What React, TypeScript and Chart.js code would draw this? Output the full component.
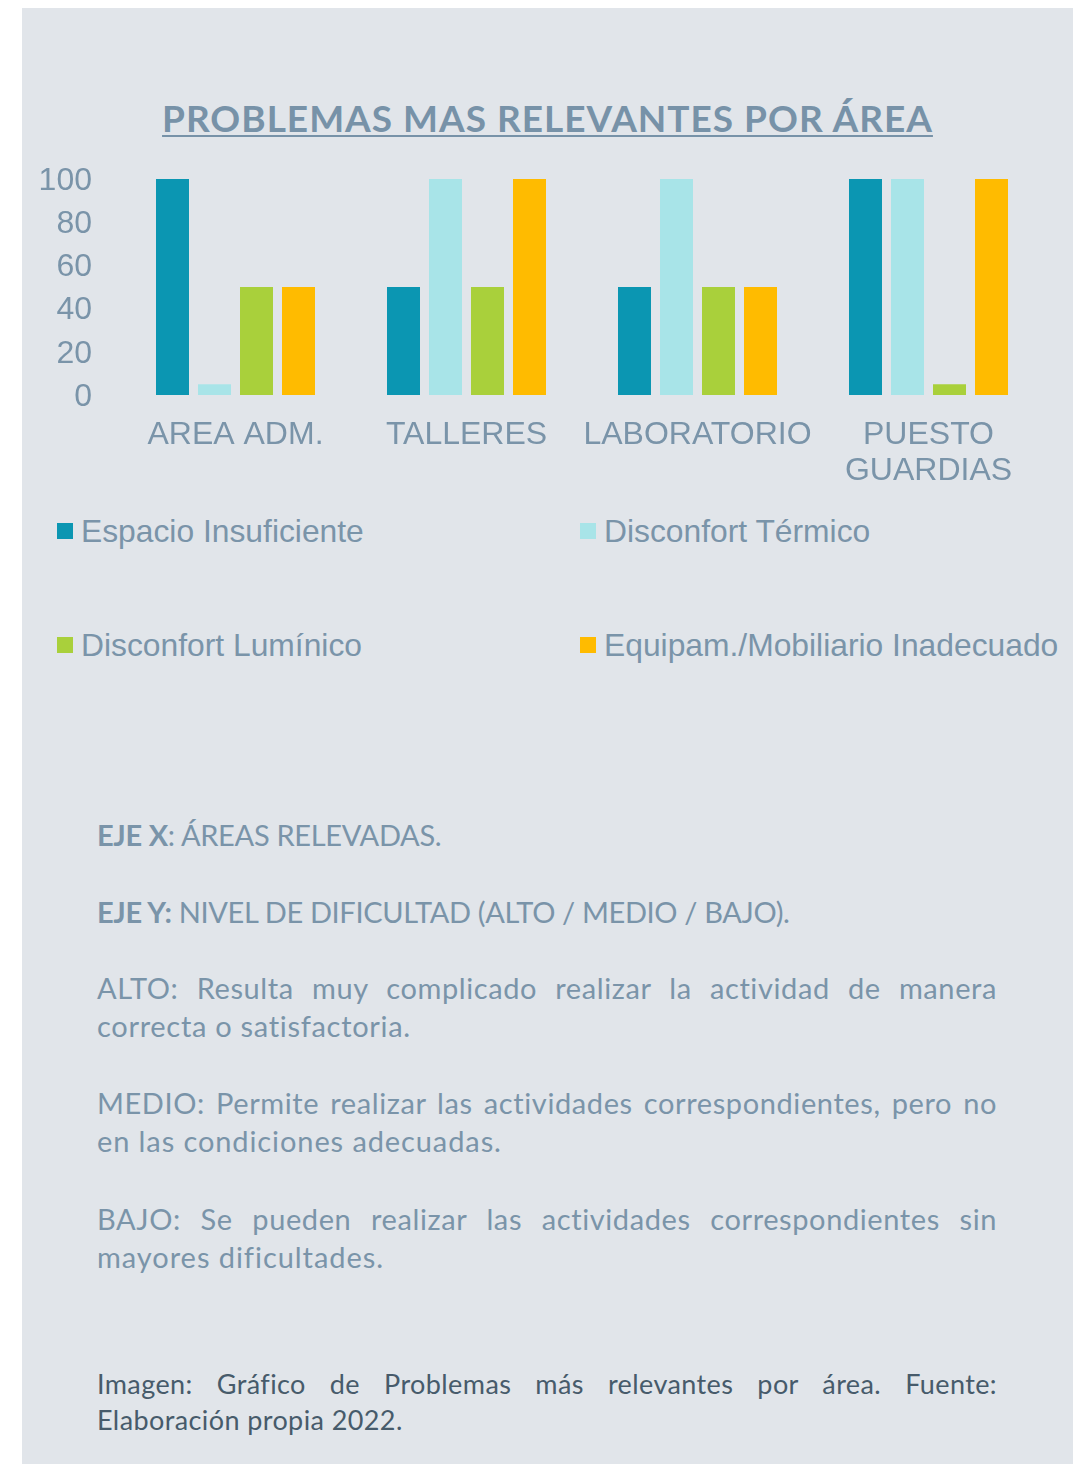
import React, { useEffect, useRef } from "react";
import { Chart, registerables } from "chart.js";

Chart.register(...registerables);

const categories = [["AREA ADM."], ["TALLERES"], ["LABORATORIO"], ["PUESTO", "GUARDIAS"]];
const seriesNames = [
  "Espacio Insuficiente",
  "Disconfort Térmico",
  "Disconfort Lumínico",
  "Equipam./Mobiliario Inadecuado",
];
const espacioInsuficiente = [100, 50, 50, 100];
const disconfortTermico = [5, 100, 100, 100];
const disconfortLuminico = [50, 50, 50, 5];
const equipamMobiliario = [50, 100, 50, 100];
const seriesColors = ["#0B96B2", "#A8E4E8", "#A9D03B", "#FFBB00"];
const yTickStep = 20;
const yMin = 0;
const yMax = 100;

const LABEL_COLOR = "#7A94A9";
const TEXT_COLOR = "#7A94A9";
const CHART_FONT = "'Liberation Sans', Arial, sans-serif";
const TEXT_FONT = "Lato, 'Open Sans', sans-serif";

function BarChart() {
  const ref = useRef<HTMLCanvasElement | null>(null);
  useEffect(() => {
    if (!ref.current) return;
    const values = [espacioInsuficiente, disconfortTermico, disconfortLuminico, equipamMobiliario];
    const chart = new Chart(ref.current, {
      type: "bar",
      data: {
        labels: categories as any,
        datasets: seriesNames.map((name, i) => ({
          label: name,
          data: values[i],
          backgroundColor: seriesColors[i],
          borderWidth: 0,
          categoryPercentage: 0.7273,
          barPercentage: 0.7857,
        })),
      },
      options: {
        responsive: false,
        animation: false,
        layout: { padding: { top: 0, right: 29, bottom: 0, left: 0 } },
        plugins: {
          legend: { display: false },
          tooltip: { enabled: false },
          title: { display: false },
        },
        scales: {
          x: {
            grid: { display: false, drawTicks: false },
            border: { display: false },
            ticks: {
              color: LABEL_COLOR,
              font: { family: CHART_FONT, size: 32, lineHeight: 1.13 },
              padding: 22,
              maxRotation: 0,
              autoSkip: false,
            },
            afterFit: (s: any) => {
              s.height = 100;
            },
          },
          y: {
            min: yMin,
            max: yMax,
            grid: { display: false, drawTicks: false },
            border: { display: false },
            ticks: {
              stepSize: yTickStep,
              color: LABEL_COLOR,
              font: { family: CHART_FONT, size: 32, lineHeight: 1 },
              padding: 28,
              labelOffset: 2,
              autoSkip: false,
            },
            afterFit: (s: any) => {
              s.width = 98;
            },
          },
        },
      },
    });
    return () => chart.destroy();
  }, []);
  return (
    <canvas
      ref={ref}
      width={1051}
      height={360}
      style={{ position: "absolute", left: 22, top: 135, width: 1051, height: 360 }}
    />
  );
}

const legendPos = [
  { x: 57, y: 531 },
  { x: 580, y: 531 },
  { x: 57, y: 645 },
  { x: 580, y: 645 },
];

function Legend() {
  return (
    <>
      {seriesNames.map((name, i) => (
        <div key={name}>
          <div
            style={{
              position: "absolute",
              left: legendPos[i].x,
              top: legendPos[i].y - 8,
              width: 16,
              height: 16,
              background: seriesColors[i],
            }}
          />
          <div
            style={{
              position: "absolute",
              left: legendPos[i].x + 24,
              top: legendPos[i].y - 18,
              fontFamily: CHART_FONT,
              fontSize: 31.8,
              lineHeight: "36px",
              color: LABEL_COLOR,
              whiteSpace: "nowrap",
            }}
          >
            {name}
          </div>
        </div>
      ))}
    </>
  );
}

const lineBase: React.CSSProperties = {
  position: "absolute",
  left: 97,
  width: 900,
  fontFamily: TEXT_FONT,
  fontSize: 29,
  lineHeight: "38px",
  color: TEXT_COLOR,
  whiteSpace: "nowrap",
};

const justified: React.CSSProperties = {
  textAlign: "justify",
  textAlignLast: "justify" as any,
  whiteSpace: "normal",
  letterSpacing: "0.6px",
};

const caption: React.CSSProperties = {
  fontSize: 27,
  lineHeight: "35px",
  color: "#475B6B",
};

export default function App() {
  return (
    <div style={{ position: "absolute", left: 0, top: 0, width: 1083, height: 1464, background: "#fff", overflow: "hidden" }}>
      <div style={{ position: "absolute", left: 22, top: 8, width: 1051, height: 1456, background: "#E1E5EA" }} />
      <div
        style={{
          position: "absolute",
          left: 22,
          width: 1051,
          top: 96,
          textAlign: "center",
          fontFamily: TEXT_FONT,
          fontWeight: 700,
          fontSize: 37,
          lineHeight: "44px",
          letterSpacing: "1px",
          color: "#7792A8",
          textDecoration: "underline",
          textDecorationThickness: "2px",
          textUnderlineOffset: "3px",
          whiteSpace: "nowrap",
        }}
      >
        PROBLEMAS MAS RELEVANTES POR ÁREA
      </div>
      <BarChart />
      <Legend />

      <div style={{ ...lineBase, top: 816, letterSpacing: "-0.3px" }}>
        <b>EJE X</b>: ÁREAS RELEVADAS.
      </div>
      <div style={{ ...lineBase, top: 893, letterSpacing: "-0.35px" }}>
        <b>EJE Y:</b> NIVEL DE DIFICULTAD (ALTO / MEDIO / BAJO).
      </div>

      <div style={{ ...lineBase, ...justified, top: 969 }}>
        ALTO: Resulta muy complicado realizar la actividad de manera
      </div>
      <div style={{ ...lineBase, top: 1007, letterSpacing: "0.7px" }}>correcta o satisfactoria.</div>

      <div style={{ ...lineBase, ...justified, top: 1084 }}>
        MEDIO: Permite realizar las actividades correspondientes, pero no
      </div>
      <div style={{ ...lineBase, top: 1122, letterSpacing: "0.9px" }}>en las condiciones adecuadas.</div>

      <div style={{ ...lineBase, ...justified, top: 1200 }}>
        BAJO: Se pueden realizar las actividades correspondientes sin
      </div>
      <div style={{ ...lineBase, top: 1238, letterSpacing: "0.95px" }}>mayores dificultades.</div>

      <div style={{ ...lineBase, ...justified, ...caption, top: 1366, letterSpacing: "0.4px" }}>
        Imagen: Gráfico de Problemas más relevantes por área. Fuente:
      </div>
      <div style={{ ...lineBase, ...caption, top: 1402, letterSpacing: "0.4px" }}>
        Elaboración propia 2022.
      </div>
    </div>
  );
}
